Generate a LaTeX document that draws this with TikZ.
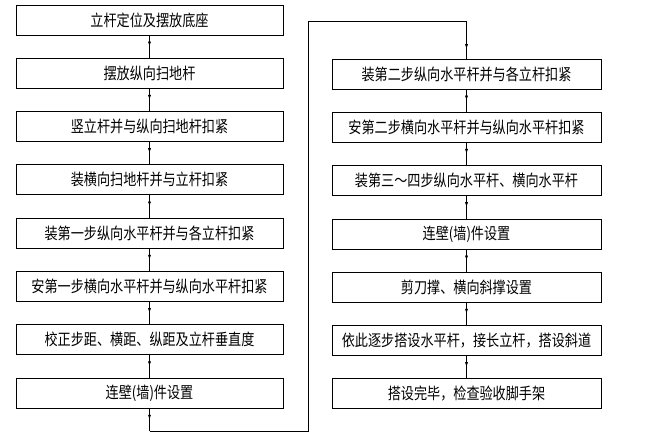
\documentclass[tikz,border=0pt]{standalone}
\usepackage{fontspec}
\newfontfamily\cjk[FakeStretch=0.82]{Noto Sans CJK SC}
\usetikzlibrary{positioning, arrows.meta, decorations.markings}
\tikzset{x = 1pt, y = 1pt,
         node distance = 53.3pt, on grid,
         stepbox/.style = {draw, line width = 0.8pt,
                           minimum width = 267pt, minimum height = 30pt,
                           inner sep = 0pt,
                           font = \cjk\fontsize{16}{18}\selectfont},
         flow/.style = {line width = 0.6pt, postaction = decorate,
                        decoration = {markings, mark = at position #1 with
                          {\arrow{Latex[length = 5pt, width = 3pt]}}}},
         flow/.default = 0.5}

\begin{document}
\begin{tikzpicture}
        \useasboundingbox (0,0) rectangle (661,437);

        \node[stepbox] (l1) at (149.5,417) {立杆定位及摆放底座};
        \node[stepbox] (l2) [below = of l1] {摆放纵向扫地杆};
        \node[stepbox] (l3) [below = of l2] {竖立杆并与纵向扫地杆扣紧};
        \node[stepbox] (l4) [below = of l3] {装横向扫地杆并与立杆扣紧};
        \node[stepbox] (l5) [below = of l4] {装第一步纵向水平杆并与各立杆扣紧};
        \node[stepbox] (l6) [below = of l5] {安第一步横向水平杆并与纵向水平杆扣紧};
        \node[stepbox] (l7) [below = of l6] {校正步距、横距、纵距及立杆垂直度};
        \node[stepbox] (l8) [below = of l7] {连壁(墙)件设置};

        \node[stepbox, minimum width = 269pt] (r1) at (466.5,363) {装第二步纵向水平杆并与各立杆扣紧};
        \node[stepbox, minimum width = 269pt] (r2) [below = of r1] {安第二步横向水平杆并与纵向水平杆扣紧};
        \node[stepbox, minimum width = 269pt] (r3) [below = of r2] {装第三～四步纵向水平杆、横向水平杆};
        \node[stepbox, minimum width = 269pt] (r4) [below = of r3] {连壁(墙)件设置};
        \node[stepbox, minimum width = 269pt] (r5) [below = of r4] {剪刀撑、横向斜撑设置};
        \node[stepbox, minimum width = 269pt] (r6) [below = of r5] {依此逐步搭设水平杆，接长立杆，搭设斜道};
        \node[stepbox, minimum width = 269pt] (r7) [below = of r6] {搭设完毕，检查验收脚手架};

        \coordinate (c1) at (149.5,6);
        \coordinate (c2) at (308,6);
        \coordinate (c3) at (308,416);
        \coordinate (c4) at (466.5,416);

        \foreach \a/\b in {l1/l2, l2/l3, l3/l4, l4/l5, l5/l6, l6/l7, l7/l8,
                           r1/r2, r2/r3, r3/r4, r4/r5, r5/r6, r6/r7}
            \draw[flow] (\a) -- (\b);

        \draw[flow] (l8) -- (c1);
        \draw[line width = 0.6pt] (c1) -- (c2) -- (c3) -- (c4);
        \draw[flow = 0.75] (c4) -- (r1);
    \end{tikzpicture}
\end{document}
